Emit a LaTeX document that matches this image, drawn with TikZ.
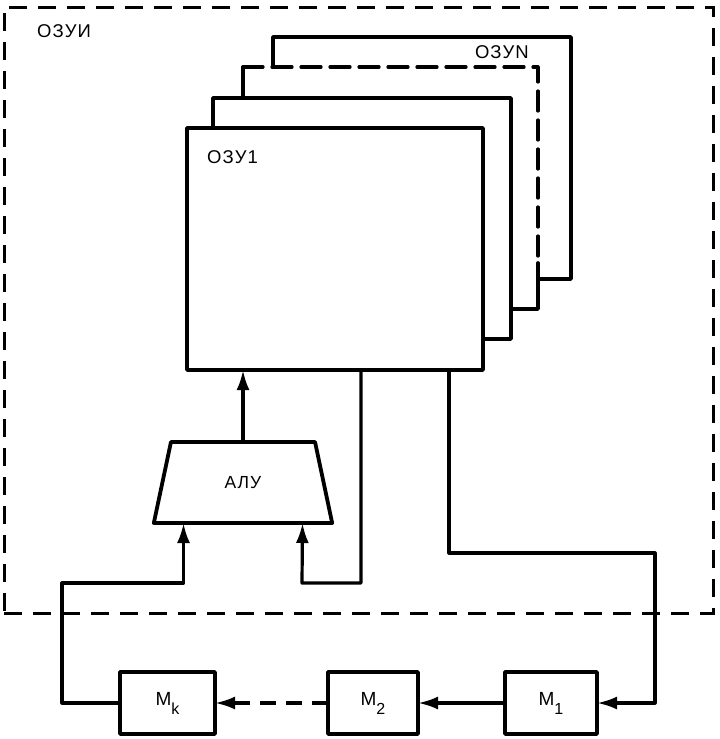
\documentclass[tikz,border=0pt]{standalone}
\usepackage{fontspec}
\setmainfont[LetterSpace=6]{Liberation Sans}
\usetikzlibrary{arrows.meta,shapes.geometric}
\begin{document}
\begin{tikzpicture}[x=1pt,y=-1pt,
  boxline/.style={line width=3.8pt, line join=round, line cap=round},
  sbox/.style={draw, boxline, fill=white, inner sep=0pt, outer sep=0pt},
  mbox/.style={sbox, minimum height=62pt},
  conn/.style={line width=3.2pt, line join=round},
  tipend/.style={-{Latex[length=20pt,width=13pt]}},
  lab/.style={font=\fontsize{18.5}{20}\selectfont, inner sep=0pt},
  outerbox/.style={draw, line width=3pt, dash pattern=on 18pt off 11pt, inner sep=0pt, outer sep=0pt}]
\useasboundingbox (0,0) rectangle (720,739);

% outer dashed container
\node[outerbox, minimum width=709pt, minimum height=606pt] (ozui) at (358.5,310) {};
\node[lab, anchor=west] (ozuiLab) at (37,31) {ОЗУИ};

% stacked memory blocks (back to front)
\node[sbox, minimum width=298pt, minimum height=242pt] (b4) at (422,158) {};
\node[fill=white, inner sep=0pt, outer sep=0pt, minimum width=295pt, minimum height=242pt] (b3) at (390.5,188) {};
\draw[boxline] (b3.north west) -- (b3.south west) -- (b3.south east) -- ([yshift=46pt]b3.south east);
\draw[boxline, line width=3.2pt, dash pattern=on 20pt off 9pt] (b3.north west) -- (b3.north east) -- ([yshift=46pt]b3.south east);
\node[lab, anchor=east] (ozuNLab) at (529,52) {ОЗУN};
\node[sbox, minimum width=298pt, minimum height=241pt] (b2) at (362,218.5) {};
\node[sbox, minimum width=296pt, minimum height=242pt] (b1) at (335,249) {};
\node[lab, anchor=west] (ozu1Lab) at (207,157) {ОЗУ1};

% ALU
\node[trapezium, trapezium stretches=true, draw, boxline, fill=white,
      minimum width=179pt, minimum height=81pt, inner sep=0pt, outer sep=0pt,
      trapezium left angle=70.3, trapezium right angle=70.3,
      font=\fontsize{17.5}{19}\selectfont] (alu) at (243,482.5) {АЛУ};

% M blocks
\node[mbox, minimum width=95pt, font=\fontsize{19}{19}\selectfont] (mk) at (167.5,703) {M\raisebox{-9pt}{\fontsize{16}{16}\selectfont k}};
\node[mbox, minimum width=90pt, font=\fontsize{19}{19}\selectfont] (m2) at (373,703) {M\raisebox{-9pt}{\fontsize{16}{16}\selectfont 2}};
\node[mbox, minimum width=92pt, font=\fontsize{19}{19}\selectfont] (m1) at (551,703) {M\raisebox{-9pt}{\fontsize{16}{16}\selectfont 1}};

% junction points
\coordinate (jL) at (62,583);
\coordinate (jR) at (302,583);
\coordinate (jM) at (655,553);

% connectors
\draw[conn, tipend] (alu.north) -- (alu.north |- b1.south);
\draw[conn, tipend] ([xshift=26pt]b1.south) |- (jR) -- ([xshift=59.5pt]alu.south);
\draw[conn, tipend] (mk.west) -| (jL) -| ([xshift=-59.5pt]alu.south);
\draw[conn, tipend] ([xshift=114pt]b1.south) |- (jM) |- (m1.east);
\draw[conn, tipend] (m1.west) -- (m2.east);
\draw[conn, tipend, dash pattern=on 16pt off 10pt] (m2.west) -- (mk.east);
\end{tikzpicture}
\end{document}
